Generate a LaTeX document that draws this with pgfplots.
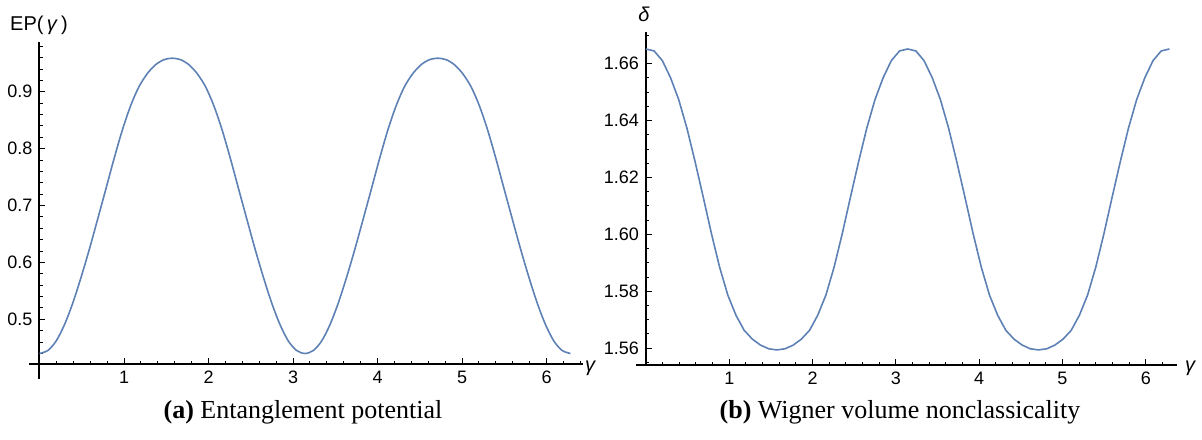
\documentclass[border=0pt]{standalone}
\usepackage{fontspec}
\setmainfont{Liberation Serif}
\setsansfont{Liberation Sans}
\usepackage{pgfplots}
\pgfplotsset{compat=1.18}
\definecolor{mma}{RGB}{94,129,181}
\begin{document}
\begin{tikzpicture}
\pgfplotsset{
 mstyle/.style={
  scale only axis,
  axis x line*=bottom, axis y line*=left,
  axis line style={line width=1pt, black},
  tick align=inside,
  major tick length=3pt, minor tick length=1.6pt,
  every tick/.style={black, line width=0.5pt},
  ticklabel style={font=\sffamily\fontsize{9}{10}\selectfont},
  /pgf/number format/assume math mode=true,
  clip=false,
  xtick={1,2,3,4,5,6},
  minor xtick={0.2,0.4,0.6,0.8,1.2,1.4,1.6,1.8,2.2,2.4,2.6,2.8,3.2,3.4,3.6,3.8,4.2,4.4,4.6,4.8,5.2,5.4,5.6,5.8,6.2,6.4},
  xticklabel style={/pgf/number format/.cd, fixed, precision=0},
 }
}
% (a) Entanglement potential
\begin{axis}[mstyle, at={(0pt,0pt)}, anchor=south west,
  width=271.7pt, height=161.3pt,
  xmin=0, xmax=6.43, ymin=0.421, ymax=0.988,
  ytick={0.5,0.6,0.7,0.8,0.9},
  minor ytick={0.44,0.46,0.48,0.52,0.54,0.56,0.58,0.62,0.64,0.66,0.68,0.72,0.74,0.76,0.78,0.82,0.84,0.86,0.88,0.92,0.94,0.96,0.98},
  yticklabel style={/pgf/number format/.cd, fixed, fixed zerofill, precision=1}]
\addplot[mma, line width=0.8pt, smooth] coordinates {
(0.0000,0.4400) (0.0982,0.4452) (0.1963,0.4618) (0.2945,0.4903) (0.3927,0.5282)
(0.4909,0.5734) (0.5890,0.6227) (0.6872,0.6756) (0.7854,0.7291) (0.8836,0.7831)
(0.9817,0.8334) (1.0799,0.8760) (1.1781,0.9092) (1.2763,0.9320) (1.3744,0.9476)
(1.4726,0.9564) (1.5708,0.9590) (1.6690,0.9564) (1.7671,0.9476) (1.8653,0.9320)
(1.9635,0.9092) (2.0617,0.8760) (2.1598,0.8334) (2.2580,0.7831) (2.3562,0.7291)
(2.4544,0.6756) (2.5525,0.6227) (2.6507,0.5734) (2.7489,0.5282) (2.8471,0.4903)
(2.9452,0.4618) (3.0434,0.4452) (3.1416,0.4400) (3.2398,0.4452) (3.3379,0.4618)
(3.4361,0.4903) (3.5343,0.5282) (3.6325,0.5734) (3.7306,0.6227) (3.8288,0.6756)
(3.9270,0.7291) (4.0252,0.7831) (4.1233,0.8334) (4.2215,0.8760) (4.3197,0.9092)
(4.4179,0.9320) (4.5160,0.9476) (4.6142,0.9564) (4.7124,0.9590) (4.8106,0.9564)
(4.9087,0.9476) (5.0069,0.9320) (5.1051,0.9092) (5.2033,0.8760) (5.3014,0.8334)
(5.3996,0.7831) (5.4978,0.7291) (5.5960,0.6756) (5.6941,0.6227) (5.7923,0.5734)
(5.8905,0.5282) (5.9887,0.4903) (6.0868,0.4618) (6.1850,0.4452) (6.2832,0.4400)
};
\draw[line width=1pt] (axis cs:0,0.421) -- (axis cs:0,0.396);
\draw[line width=1pt] (axis cs:-0.12,0.421) -- (axis cs:0,0.421);
\end{axis}
% (b) Wigner volume nonclassicality
\begin{axis}[mstyle, at={(303.25pt,-0.35pt)}, anchor=south west,
  width=265.5pt, height=166.4pt,
  xmin=0, xmax=6.375, ymin=1.5541, ymax=1.6711,
  ytick={1.56,1.58,1.60,1.62,1.64,1.66},
  minor ytick={1.555,1.565,1.57,1.575,1.585,1.59,1.595,1.605,1.61,1.615,1.625,1.63,1.635,1.645,1.65,1.655,1.665,1.67},
  yticklabel style={/pgf/number format/.cd, fixed, fixed zerofill, precision=2}]
\addplot[mma, line width=0.8pt] coordinates {
(0.0000,1.6652) (0.0982,1.6645) (0.1963,1.6611) (0.2945,1.6551) (0.3927,1.6474)
(0.4909,1.6374) (0.5890,1.6256) (0.6872,1.6131) (0.7854,1.6003) (0.8836,1.5885)
(0.9817,1.5787) (1.0799,1.5716) (1.1781,1.5663) (1.2763,1.5632) (1.3744,1.5611)
(1.4726,1.5598) (1.5708,1.5594) (1.6690,1.5598) (1.7671,1.5611) (1.8653,1.5632)
(1.9635,1.5663) (2.0617,1.5716) (2.1598,1.5787) (2.2580,1.5885) (2.3562,1.6003)
(2.4544,1.6131) (2.5525,1.6256) (2.6507,1.6374) (2.7489,1.6474) (2.8471,1.6551)
(2.9452,1.6611) (3.0434,1.6645) (3.1416,1.6652) (3.2398,1.6645) (3.3379,1.6611)
(3.4361,1.6551) (3.5343,1.6474) (3.6325,1.6374) (3.7306,1.6256) (3.8288,1.6131)
(3.9270,1.6003) (4.0252,1.5885) (4.1233,1.5787) (4.2215,1.5716) (4.3197,1.5663)
(4.4179,1.5632) (4.5160,1.5611) (4.6142,1.5598) (4.7124,1.5594) (4.8106,1.5598)
(4.9087,1.5611) (5.0069,1.5632) (5.1051,1.5663) (5.2033,1.5716) (5.3014,1.5787)
(5.3996,1.5885) (5.4978,1.6003) (5.5960,1.6131) (5.6941,1.6256) (5.7923,1.6374)
(5.8905,1.6474) (5.9887,1.6551) (6.0868,1.6611) (6.1850,1.6645) (6.2832,1.6652)
};
\draw[line width=1pt] (axis cs:-0.12,1.5541) -- (axis cs:0,1.5541);
\end{axis}
% axis labels
\node[font=\sffamily\fontsize{10}{12}\selectfont] at (-0.25pt,169.65pt) {EP(\,\textit{γ}\,)};
\node[font=\sffamily\itshape\fontsize{10}{12}\selectfont] at (302.25pt,175.15pt) {δ};
\node[font=\sffamily\itshape\fontsize{10}{12}\selectfont] at (275.25pt,-1.85pt) {γ};
\node[font=\sffamily\itshape\fontsize{10}{12}\selectfont] at (575.25pt,-1.85pt) {γ};
% captions
\node[anchor=base, font=\fontsize{13}{15}\selectfont] at (131.75pt,-26.85pt) {\textbf{(a)} Entanglement potential};
\node[anchor=base, font=\fontsize{13}{15}\selectfont] at (430.25pt,-26.85pt) {\textbf{(b)} Wigner volume nonclassicality};
\pgfresetboundingbox
\path (-19.75pt,-37.35pt) rectangle (581.25pt,182.15pt);
\end{tikzpicture}
\end{document}
